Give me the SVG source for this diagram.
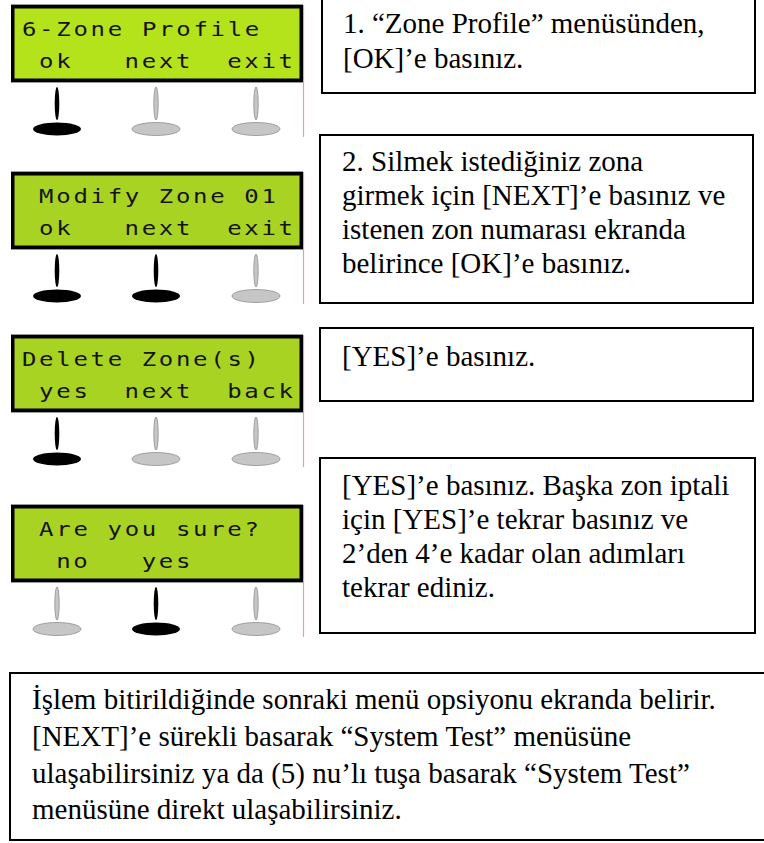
<svg xmlns="http://www.w3.org/2000/svg" width="764" height="843" viewBox="0 0 764 843">
<style>
.lcd{stroke:#000;stroke-width:3.5}
.g1{fill:#b4e31c}
.g2{fill:#a9d323}
.edge{stroke:#9a9a9a;stroke-width:1}
.red{stroke:#f29a9a;stroke-width:1.2}
.lt{font-family:"DejaVu Sans Mono","Liberation Mono",monospace;font-size:20px;fill:#141414;letter-spacing:2.25px}
.on{fill:#000}
.off{fill:#c6c6c6;stroke:#8e8e8e;stroke-width:0.8}
.box{fill:#fff;stroke:#000;stroke-width:2}
.tx{font-family:"Liberation Serif","Times New Roman",serif;font-size:29px;fill:#000}
</style>
<defs>
<g id="stemOn"><ellipse cx="0" cy="98.5" rx="2.3" ry="16.5" class="on"/></g>
<g id="stemOff"><ellipse cx="0" cy="98.5" rx="2.2" ry="16.5" class="off"/></g>
<g id="padOn"><ellipse cx="0" cy="124" rx="24" ry="6.5" class="on"/></g>
<g id="padOff"><ellipse cx="0" cy="124" rx="24" ry="6.5" class="off"/></g>
</defs>

<g id="lcd1" transform="translate(0,5)">
<line class="red" x1="303.5" y1="0" x2="303.5" y2="132"/>
<line class="edge" x1="11" y1="-0.5" x2="303" y2="-0.5"/>
<line class="edge" x1="11" y1="77.5" x2="303" y2="77.5"/>
<rect class="lcd g1" x="12.75" y="1.75" width="288.5" height="73.5"/>
<g transform="scale(1.2,1)">
<text class="lt" x="18.33" y="31">6-Zone Profile</text>
<text class="lt" x="32.58" y="63">ok</text>
<text class="lt" x="103.83" y="63">next</text>
<text class="lt" x="189.33" y="63">exit</text>
</g>
<use href="#stemOn" x="57"/><use href="#padOn" x="57"/>
<use href="#stemOff" x="156"/><use href="#padOff" x="156"/>
<use href="#stemOff" x="256"/><use href="#padOff" x="256"/>
</g>

<g id="lcd2" transform="translate(0,172)">
<line class="red" x1="303.5" y1="0" x2="303.5" y2="132"/>
<line class="edge" x1="11" y1="-0.5" x2="303" y2="-0.5"/>
<line class="edge" x1="11" y1="77.5" x2="303" y2="77.5"/>
<rect class="lcd g2" x="12.75" y="1.75" width="288.5" height="73.5"/>
<g transform="scale(1.2,1)">
<text class="lt" x="32.58" y="31">Modify</text>
<text class="lt" x="132.33" y="31">Zone</text>
<text class="lt" x="203.58" y="31">01</text>
<text class="lt" x="32.58" y="63">ok</text>
<text class="lt" x="103.83" y="63">next</text>
<text class="lt" x="189.33" y="63">exit</text>
</g>
<use href="#stemOn" x="57"/><use href="#padOn" x="57"/>
<use href="#stemOn" x="156"/><use href="#padOn" x="156"/>
<use href="#stemOff" x="256"/><use href="#padOff" x="256"/>
</g>

<g id="lcd3" transform="translate(0,335)">
<line class="red" x1="303.5" y1="0" x2="303.5" y2="132"/>
<line class="edge" x1="11" y1="-0.5" x2="303" y2="-0.5"/>
<line class="edge" x1="11" y1="77.5" x2="303" y2="77.5"/>
<rect class="lcd g2" x="12.75" y="1.75" width="288.5" height="73.5"/>
<g transform="scale(1.2,1)">
<text class="lt" x="18.33" y="31">Delete</text>
<text class="lt" x="118.08" y="31">Zone(s)</text>
<text class="lt" x="32.58" y="63">yes</text>
<text class="lt" x="103.83" y="63">next</text>
<text class="lt" x="189.33" y="63">back</text>
</g>
<use href="#stemOn" x="57"/><use href="#padOn" x="57"/>
<use href="#stemOff" x="156"/><use href="#padOff" x="156"/>
<use href="#stemOff" x="256"/><use href="#padOff" x="256"/>
</g>

<g id="lcd4" transform="translate(0,505)">
<line class="red" x1="303.5" y1="0" x2="303.5" y2="132"/>
<line class="edge" x1="11" y1="-0.5" x2="303" y2="-0.5"/>
<line class="edge" x1="11" y1="77.5" x2="303" y2="77.5"/>
<rect class="lcd g2" x="12.75" y="1.75" width="288.5" height="73.5"/>
<g transform="scale(1.2,1)">
<text class="lt" x="32.58" y="31">Are</text>
<text class="lt" x="89.58" y="31">you</text>
<text class="lt" x="146.58" y="31">sure?</text>
<text class="lt" x="46.83" y="63">no</text>
<text class="lt" x="118.08" y="63">yes</text>
</g>
<use href="#stemOff" x="57"/><use href="#padOff" x="57"/>
<use href="#stemOn" x="156"/><use href="#padOn" x="156"/>
<use href="#stemOff" x="256"/><use href="#padOff" x="256"/>
</g>

<g id="step1">
<rect class="box" x="322" y="-3" width="433" height="96"/>
<text class="tx" x="343" y="33">1. “Zone Profile” menüsünden,</text>
<text class="tx" x="343" y="68">[OK]’e basınız.</text>
</g>

<g id="step2">
<rect class="box" x="320" y="135" width="433" height="168"/>
<text class="tx" x="342" y="171">2. Silmek istediğiniz zona</text>
<text class="tx" x="342" y="205">girmek için [NEXT]’e basınız ve</text>
<text class="tx" x="342" y="239">istenen zon numarası ekranda</text>
<text class="tx" x="342" y="273">belirince [OK]’e basınız.</text>
</g>

<g id="step3">
<rect class="box" x="320" y="328" width="433" height="73"/>
<text class="tx" x="342" y="366">[YES]’e basınız.</text>
</g>

<g id="step4">
<rect class="box" x="320" y="458" width="435" height="175"/>
<text class="tx" x="342" y="495">[YES]’e basınız. Başka zon iptali</text>
<text class="tx" x="342" y="529">için [YES]’e tekrar basınız ve</text>
<text class="tx" x="342" y="563">2’den 4’e kadar olan adımları</text>
<text class="tx" x="342" y="597">tekrar ediniz.</text>
</g>

<g id="note">
<rect class="box" x="10" y="673" width="770" height="167"/>
<text class="tx" x="32" y="709">İşlem bitirildiğinde sonraki menü opsiyonu ekranda belirir.</text>
<text class="tx" x="32" y="746">[NEXT]’e sürekli basarak “System Test” menüsüne</text>
<text class="tx" x="32" y="783">ulaşabilirsiniz ya da (5) nu’lı tuşa basarak “System Test”</text>
<text class="tx" x="32" y="819">menüsüne direkt ulaşabilirsiniz.</text>
</g>
</svg>
